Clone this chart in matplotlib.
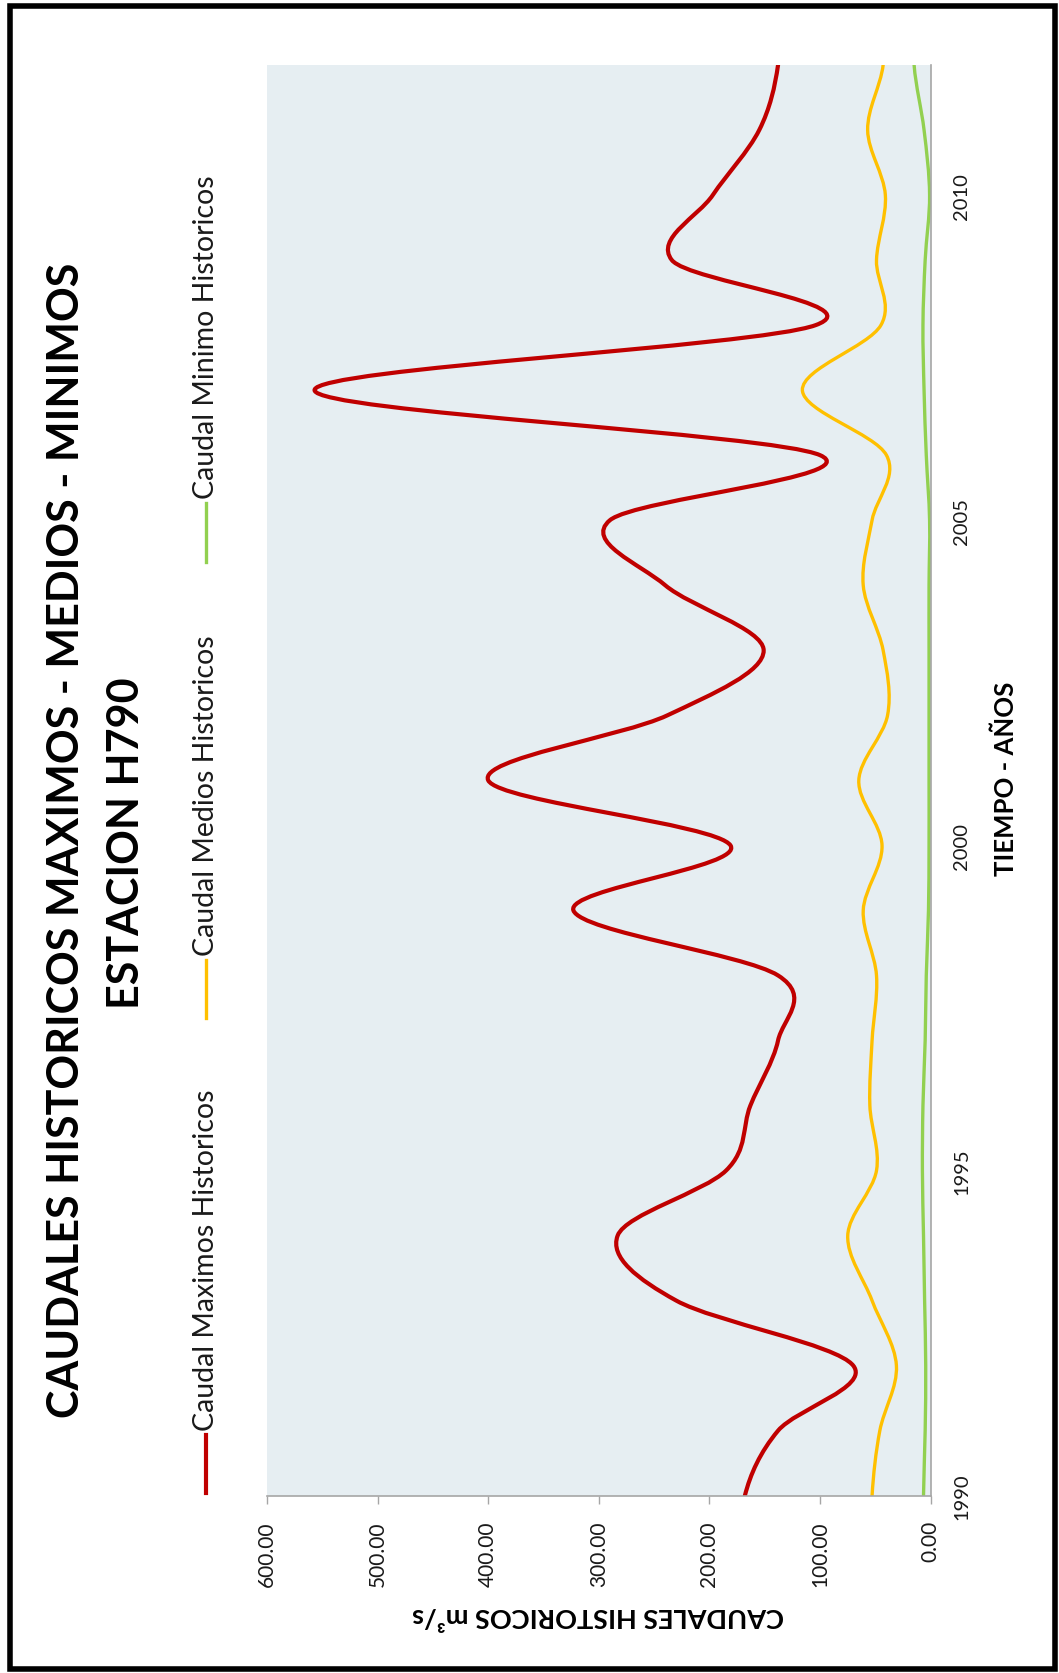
import matplotlib
matplotlib.use("Agg")
import matplotlib.pyplot as plt
from matplotlib.path import Path
from matplotlib.patches import PathPatch, Rectangle
from matplotlib.lines import Line2D

plt.rcParams['font.family'] = ['Lato', 'DejaVu Sans']

# ---------------- data ----------------
years = list(range(1990, 2013))
caudal_max = [168, 138, 70, 230, 283, 185, 163, 138, 138, 323, 181, 400,
              238, 151, 240, 290, 100, 557, 104, 234, 197, 155, 138]
caudal_med = [53, 46, 31, 53, 75, 49, 55, 53, 49, 61, 44, 65,
              39, 43, 61, 53, 40, 116, 45, 49, 41, 57, 43]
caudal_min = [6.5, 5, 4.5, 5.5, 6.5, 7.5, 7, 5, 4, 2, 1.5, 1.5,
              1.5, 1.5, 1.5, 1, 4, 6, 7, 5, 1, 6, 15]
series_names = ["Caudal Maximos Historicos", "Caudal Medios Historicos",
                "Caudal Minimo Historicos"]
value_ticks = [0, 100, 200, 300, 400, 500, 600]
year_ticks = [1990, 1995, 2000, 2005, 2010]
title_l1 = "CAUDALES HISTORICOS MAXIMOS - MEDIOS - MINIMOS"
title_l2 = "ESTACION H790"
xlab = "TIEMPO - AÑOS"
ylab = "CAUDALES HISTORICOS m³/s"

colors = ['#C00000', '#FFC000', '#92D050']
widths = [3.0, 2.4, 2.4]

W, H = 1059, 1674
fig = plt.figure(figsize=(W / 100, H / 100), dpi=100)
fig.patch.set_facecolor('white')

def fx(px):
    return px / W

def fy(py):
    return 1 - py / H

L, R, T, B = 267, 930.7, 66, 1496.7
ax = fig.add_axes([fx(L), fy(B), fx(R - L), (B - T) / H])
ax.set_facecolor('#E6EEF2')
ax.set_xlim(600, 0)
ax.set_ylim(1990, 2012)


def smooth_path(xs, vs):
    n = len(xs)
    verts = [(vs[0], xs[0])]
    codes = [Path.MOVETO]
    for i in range(n - 1):
        vm = vs[i - 1] if i > 0 else vs[i]
        vp2 = vs[i + 2] if i + 2 < n else vs[i + 1]
        dx = xs[i + 1] - xs[i]
        c1 = (vs[i] + (vs[i + 1] - vm) / 6.0, xs[i] + dx / 3.0)
        c2 = (vs[i + 1] - (vp2 - vs[i]) / 6.0, xs[i + 1] - dx / 3.0)
        verts += [c1, c2, (vs[i + 1], xs[i + 1])]
        codes += [Path.CURVE4] * 3
    return Path(verts, codes)


for vals, c, lw in zip([caudal_max, caudal_med, caudal_min], colors, widths):
    p = PathPatch(smooth_path(years, vals), fill=False, edgecolor=c,
                  lw=lw, capstyle='round', joinstyle='round')
    ax.add_patch(p)

for s in ['left', 'top']:
    ax.spines[s].set_visible(False)
for s in ['bottom', 'right']:
    ax.spines[s].set_color('#A6A6A6')
    ax.spines[s].set_linewidth(1.2)

ax.set_xticks(value_ticks)
ax.set_xticklabels([f"{v:.2f}" for v in value_ticks], rotation=90,
                   fontsize=15, color='#1a1a1a')
ax.tick_params(axis='x', direction='out', length=5.5, width=1.0,
               color='#A6A6A6', pad=12)
ax.yaxis.tick_right()
ax.set_yticks(year_ticks)
ax.set_yticklabels([str(y) for y in year_ticks], rotation=90, fontsize=14.5,
                   color='#1a1a1a', va='center')
ax.tick_params(axis='y', length=0, pad=16)

# titles and axis labels
fig.text(fx(66), fy(840), title_l1, rotation=90, ha='center', va='center',
         fontsize=31, fontweight='bold', color='black')
fig.text(fx(126), fy(843), title_l2, rotation=90, ha='center', va='center',
         fontsize=31, fontweight='bold', color='black')
fig.text(fx(1006), fy(779), xlab, rotation=90, ha='center', va='center',
         fontsize=18.5, fontweight='bold', color='black')
fig.text(fx(598), fy(1616), ylab, rotation=180, ha='center', va='center',
         fontsize=19.5, fontweight='bold', color='black')

# legend (drawn manually, rotated)
leg_lines = [(1436, 1494), (961, 1019), (504, 563)]
for name, c, lw, (y0, y1) in zip(series_names, colors, widths, leg_lines):
    fig.add_artist(Line2D([fx(206), fx(206)], [fy(y0), fy(y1)], color=c,
                          lw=lw, transform=fig.transFigure))
    fig.text(fx(206), fy(y0 - 5), name, rotation=90, ha='center', va='bottom',
             fontsize=20.5, color='#1a1a1a')

# outer border
fig.add_artist(Rectangle((fx(9.5), fy(1670)), fx(1055 - 9.5), (1670 - 7) / H,
                         transform=fig.transFigure, fill=False,
                         edgecolor='black', lw=4))

fig.savefig('out.png', dpi=100)
